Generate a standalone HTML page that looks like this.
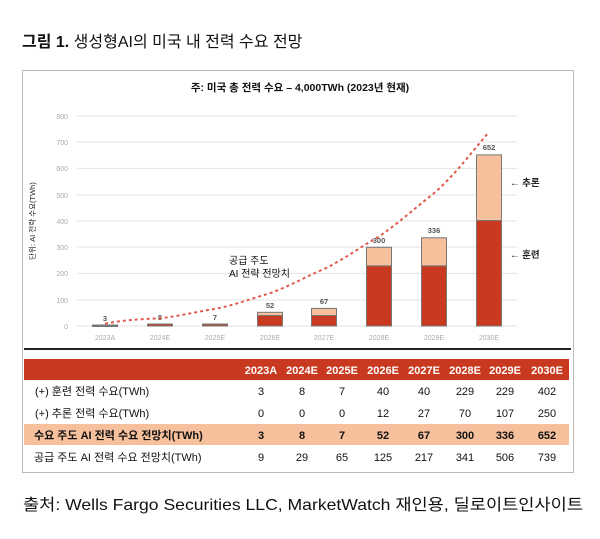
<!DOCTYPE html>
<html><head><meta charset="utf-8"><style>
html,body{margin:0;padding:0;background:#fff;}
svg{display:block;}
text{font-family:"Liberation Sans","Noto Sans CJK KR",sans-serif;}
</style></head><body>
<svg width="600" height="539" viewBox="0 0 600 539" xmlns="http://www.w3.org/2000/svg">
<text x="22" y="47" font-size="16" fill="#111"><tspan font-weight="bold">그림 1.</tspan> 생성형AI의 미국 내 전력 수요 전망</text>
<rect x="22.5" y="70.5" width="551" height="402" fill="#fff" stroke="#bbb" stroke-width="1"/>
<text x="300" y="91" font-size="10.5" font-weight="bold" text-anchor="middle" fill="#111">주: 미국 총 전력 수요 – 4,000TWh (2023년 현재)</text>
<g stroke="#e6e6e6" stroke-width="1.2">
<line x1="77" y1="116" x2="517" y2="116"/><line x1="77" y1="142" x2="517" y2="142"/>
<line x1="77" y1="168.5" x2="517" y2="168.5"/><line x1="77" y1="195" x2="517" y2="195"/>
<line x1="77" y1="221" x2="517" y2="221"/><line x1="77" y1="247" x2="517" y2="247"/>
<line x1="77" y1="273.5" x2="517" y2="273.5"/><line x1="77" y1="300" x2="517" y2="300"/>
<line x1="77" y1="326" x2="517" y2="326"/>
</g>
<g font-size="7" fill="#aaa" text-anchor="end">
<text x="68" y="119">800</text><text x="68" y="145">700</text><text x="68" y="171">600</text>
<text x="68" y="198">500</text><text x="68" y="224">400</text><text x="68" y="250">300</text>
<text x="68" y="276">200</text><text x="68" y="303">100</text><text x="68" y="329">0</text>
</g>
<text transform="translate(35,221) rotate(-90)" font-size="7.5" text-anchor="middle" fill="#222">단위: AI 전략 수요(TWh)</text>
<g font-size="7" fill="#aaa" text-anchor="middle">
<text x="105" y="340">2023A</text><text x="160" y="340">2024E</text><text x="215" y="340">2025E</text>
<text x="270" y="340">2026E</text><text x="324" y="340">2027E</text><text x="379" y="340">2028E</text>
<text x="434" y="340">2029E</text><text x="489" y="340">2030E</text>
</g>
<g stroke="#777" stroke-width="1">
<rect x="92.5" y="325" width="25" height="1.5" fill="#777"/>
<rect x="147.5" y="324" width="25" height="2" fill="#c8391f"/>
<rect x="202.5" y="324" width="25" height="2" fill="#b94a30"/>
<rect x="257.5" y="312.3" width="25" height="3.2" fill="#f6c09c"/><rect x="257.5" y="315.5" width="25" height="10.5" fill="#c8391f"/>
<rect x="311.5" y="308.4" width="25" height="7.1" fill="#f6c09c"/><rect x="311.5" y="315.5" width="25" height="10.5" fill="#c8391f"/>
<rect x="366.5" y="247.3" width="25" height="18.6" fill="#f6c09c"/><rect x="366.5" y="265.9" width="25" height="60.1" fill="#c8391f"/>
<rect x="421.5" y="237.8" width="25" height="28.1" fill="#f6c09c"/><rect x="421.5" y="265.9" width="25" height="60.1" fill="#c8391f"/>
<rect x="476.5" y="154.9" width="25" height="65.6" fill="#f6c09c"/><rect x="476.5" y="220.5" width="25" height="105.5" fill="#c8391f"/>
</g>
<g font-size="7.5" font-weight="bold" fill="#555" text-anchor="middle">
<text x="105" y="321">3</text><text x="160" y="320">8</text><text x="215" y="320">7</text>
<text x="270" y="308">52</text><text x="324" y="304">67</text><text x="379" y="243">300</text>
<text x="434" y="233">336</text><text x="489" y="150">652</text>
</g>
<path d="M105,323.6 C125,320 140,319 160,318.4 C180,316 195,312 215,308.9 C235,305 250,299 270,293.2 C290,286 305,277 324,269 C345,259 360,247 379,236.5 C400,222 415,208 434,193.2 C455,175 470,154 489,132" fill="none" stroke="#e05a4c" stroke-width="2" stroke-dasharray="3,3"/>
<text x="229" y="264" font-size="10" fill="#111">공급 주도</text>
<text x="229" y="277" font-size="10" fill="#111">AI 전략 전망치</text>
<text x="510" y="186" font-size="9.5" font-weight="bold" fill="#222">← 추론</text>
<text x="510" y="258" font-size="9.5" font-weight="bold" fill="#222">← 훈련</text>
<line x1="24" y1="349" x2="571" y2="349" stroke="#222" stroke-width="2"/>
<rect x="24" y="359" width="545" height="21" fill="#c8391f"/>
<rect x="24" y="424" width="545" height="21" fill="#f6c09c"/>
<g font-size="11" text-anchor="middle">
<g font-weight="bold" fill="#fff">
<text x="261" y="374">2023A</text><text x="302" y="374">2024E</text><text x="342" y="374">2025E</text><text x="383" y="374">2026E</text><text x="424" y="374">2027E</text><text x="465" y="374">2028E</text><text x="505" y="374">2029E</text><text x="547" y="374">2030E</text>
</g>
<g fill="#111">
<text x="261" y="395">3</text><text x="302" y="395">8</text><text x="342" y="395">7</text><text x="383" y="395">40</text><text x="424" y="395">40</text><text x="465" y="395">229</text><text x="505" y="395">229</text><text x="547" y="395">402</text>
<text x="261" y="417">0</text><text x="302" y="417">0</text><text x="342" y="417">0</text><text x="383" y="417">12</text><text x="424" y="417">27</text><text x="465" y="417">70</text><text x="505" y="417">107</text><text x="547" y="417">250</text>
<g font-weight="bold">
<text x="261" y="439">3</text><text x="302" y="439">8</text><text x="342" y="439">7</text><text x="383" y="439">52</text><text x="424" y="439">67</text><text x="465" y="439">300</text><text x="505" y="439">336</text><text x="547" y="439">652</text>
</g>
<text x="261" y="461">9</text><text x="302" y="461">29</text><text x="342" y="461">65</text><text x="383" y="461">125</text><text x="424" y="461">217</text><text x="465" y="461">341</text><text x="505" y="461">506</text><text x="547" y="461">739</text>
</g>
</g>
<g font-size="11" fill="#111">
<text x="35" y="395">(+) 훈련 전력 수요(TWh)</text>
<text x="35" y="417">(+) 추론 전력 수요(TWh)</text>
<text x="34" y="439" font-weight="bold">수요 주도 AI 전력 수요 전망치(TWh)</text>
<text x="34" y="461">공급 주도 AI 전력 수요 전망치(TWh)</text>
</g>
<text x="23" y="510" font-size="16" fill="#111" textLength="560" lengthAdjust="spacingAndGlyphs">출처: Wells Fargo Securities LLC, MarketWatch 재인용, 딜로이트인사이트</text>
</svg>
</body></html>
